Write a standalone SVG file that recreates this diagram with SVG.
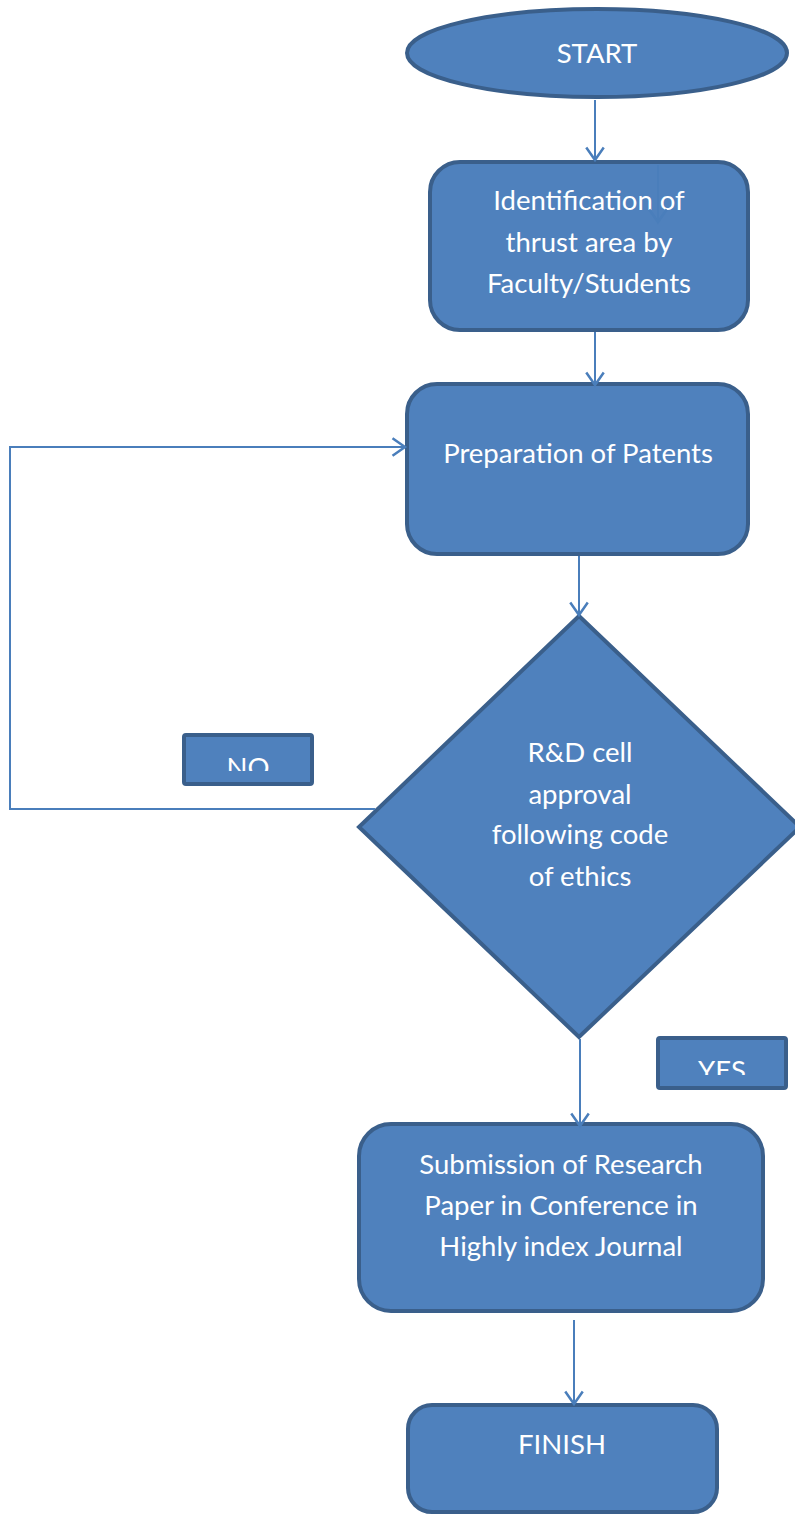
<svg xmlns="http://www.w3.org/2000/svg" width="795" height="1514" viewBox="0 0 795 1514">
<style>
.n{fill:#4f81bd;stroke:#3a5f8b;stroke-width:4}
.t{font-family:Lato,"Open Sans",sans-serif;font-size:27.5px;fill:#ffffff;text-anchor:middle}
.c{fill:none;stroke:#4a7ebb;stroke-width:2}
</style>
<defs>
<marker id="a" markerWidth="20" markerHeight="20" viewBox="-12 -8 14 16" refX="0" refY="0" orient="auto" markerUnits="userSpaceOnUse">
<path d="M-10,-7 L0,0 L-10,7" fill="none" stroke="#4a7ebb" stroke-width="2"/>
</marker>
<clipPath id="cno"><rect x="183" y="734" width="130" height="37"/></clipPath>
<clipPath id="cyes"><rect x="657" y="1037" width="130" height="38"/></clipPath>
</defs>
<rect width="795" height="1514" fill="#ffffff"/>
<g id="start">
<ellipse class="n" cx="597" cy="53" rx="190" ry="44"/>
<text class="t" x="597" y="63">START</text>
</g>
<g id="identify">
<rect class="n" x="430" y="162" width="318" height="168" rx="30"/>
<text class="t" x="589" y="210">Identification of</text>
<text class="t" x="589" y="252">thrust area by</text>
<text class="t" x="589" y="293">Faculty/Students</text>
</g>
<g id="prepare">
<rect class="n" x="407" y="384" width="341" height="170" rx="30"/>
<text class="t" x="578" y="463">Preparation of Patents</text>
</g>
<g id="decision">
<polygon class="n" points="579,616 800,827 579,1037 359,827"/>
<text class="t" x="580" y="762">R&amp;D cell</text>
<text class="t" x="580" y="804">approval</text>
<text class="t" x="580" y="844">following code</text>
<text class="t" x="580" y="886">of ethics</text>
</g>
<g id="no">
<rect class="n" x="184" y="735" width="128" height="49" rx="2"/>
<text class="t" x="248" y="777" clip-path="url(#cno)">NO</text>
</g>
<g id="yes">
<rect class="n" x="658" y="1038" width="128" height="50" rx="2"/>
<text class="t" x="722" y="1080" clip-path="url(#cyes)">YES</text>
</g>
<g id="submit">
<rect class="n" x="359" y="1124" width="404" height="187" rx="32"/>
<text class="t" x="561" y="1174">Submission of Research</text>
<text class="t" x="561" y="1215">Paper in Conference in</text>
<text class="t" x="561" y="1256">Highly index Journal</text>
</g>
<g id="finish">
<rect class="n" x="408" y="1405" width="309" height="107" rx="24"/>
<text class="t" x="562" y="1454">FINISH</text>
</g>
<g id="connectors">
<line class="c" x1="595" y1="100" x2="595" y2="160" marker-end="url(#a)"/>
<line class="c" x1="658" y1="165" x2="658" y2="222" marker-end="url(#a)" stroke-width="1.5"/>
<line class="c" x1="595" y1="332" x2="595" y2="385" marker-end="url(#a)"/>
<line class="c" x1="579" y1="556" x2="579" y2="615" marker-end="url(#a)"/>
<polyline class="c" points="375,809 10,809 10,447 405,447" marker-end="url(#a)"/>
<line class="c" x1="580" y1="1039" x2="580" y2="1126" marker-end="url(#a)"/>
<line class="c" x1="574" y1="1320" x2="574" y2="1404" marker-end="url(#a)"/>
</g>
</svg>
